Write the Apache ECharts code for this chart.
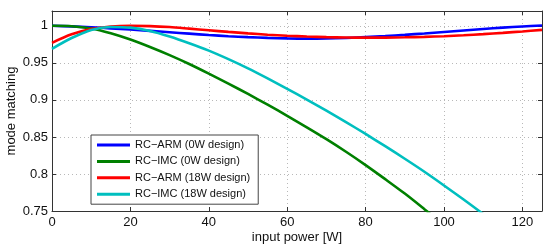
<!DOCTYPE html>
<html>
<head>
<meta charset="utf-8">
<script src="https://cdn.jsdelivr.net/npm/echarts@6/dist/echarts.min.js"></script>
<style>
html,body{margin:0;padding:0;background:#fff;}
#c{width:546px;height:245px;}
</style>
</head>
<body>
<div id="c"></div>
<script>
// input power [W]
const powers = [0,5,10,15,20,25,30,35,40,45,50,55,60,65,70,75,80,85,90,95,100,105,110,115,120,125];
const seriesNames = ['RC\u2212ARM (0W design)','RC\u2212IMC (0W design)','RC\u2212ARM (18W design)','RC\u2212IMC (18W design)'];
const armDesign0 = [1.000,0.9992,0.998,0.9966,0.995,0.9932,0.9913,0.9894,0.9876,0.986,0.9847,0.9837,0.983,0.9827,0.9828,0.9835,0.9848,0.9862,0.9878,0.9897,0.9917,0.9937,0.9957,0.9975,0.9991,1.0005];
const imcDesign0 = [1.000,0.9995,0.9965,0.990,0.9815,0.9715,0.9605,0.9485,0.9355,0.922,0.908,0.8935,0.8785,0.863,0.847,0.830,0.812,0.793,0.7735,0.7525,0.731,null,null,null,null,null];
const armDesign18 = [0.977,0.9885,0.9955,0.999,1.000,0.9996,0.9983,0.9962,0.994,0.9918,0.9898,0.988,0.9866,0.9855,0.9847,0.9842,0.984,0.9841,0.9845,0.9851,0.986,0.9873,0.9888,0.9905,0.9924,0.9945];
const imcDesign18 = [0.969,0.9835,0.9945,0.9985,0.9975,0.993,0.9855,0.9765,0.9665,0.955,0.9425,0.929,0.915,0.9005,0.8855,0.870,0.854,0.8375,0.8205,0.803,0.7845,0.7655,0.746,null,null,null];
const xTicks = [0,20,40,60,80,100,120];
const yTicks = [0.75,0.8,0.85,0.9,0.95,1];
const colors = ['#0000ff','#008000','#ff0000','#00bfbf'];

const chart = echarts.init(document.getElementById('c'), null, {renderer:'canvas'});
const font = 'Liberation Sans, Arial, Helvetica, sans-serif';
const allSeries = [armDesign0, imcDesign0, armDesign18, imcDesign18];

function pairs(vals){ return powers.map((p,i)=>[p, vals[i]]); }

const gridLine = {show:true, lineStyle:{color:'#b8b8b8', type:[1,3], width:1}};
const frame = {show:true, onZero:false, lineStyle:{color:'#333', width:1}};
const tick = {show:true, inside:true, length:4, lineStyle:{color:'#333'}};

chart.setOption({
  animation:false,
  color: colors,
  grid:{left:52, right:4, top:11, bottom:34, containLabel:false, outerBoundsMode:'none'},
  legend:{
    orient:'vertical', left:91, top:135,
    data: seriesNames,
    icon:'rect', itemWidth:33, itemHeight:3, itemGap:2.4,
    padding:[3,8,3,6],
    backgroundColor:'#fff', borderColor:'#444', borderWidth:1,
    textStyle:{fontFamily:font, fontSize:11, color:'#111', lineHeight:14}
  },
  xAxis:[{
    type:'value', min:0, max:125, interval:20,
    name:'input power [W]', nameLocation:'middle', nameGap:20, nameMoveOverlap:false,
    nameTextStyle:{fontFamily:font, fontSize:13, color:'#111'},
    axisLine:frame, axisTick:tick, splitLine:gridLine,
    axisLabel:{fontFamily:font, fontSize:13, color:'#111', margin:5, showMaxLabel:false,
      formatter:v=> xTicks.includes(v)? String(v):''}
  },{
    type:'value', min:0, max:125, interval:20, position:'top',
    axisLine:frame, axisTick:tick, splitLine:{show:false}, axisLabel:{show:false}
  }],
  yAxis:[{
    type:'value', min:0.75, max:1.02, interval:0.05,
    name:'mode matching', nameLocation:'middle', nameGap:34, nameRotate:90, nameMoveOverlap:false,
    nameTextStyle:{fontFamily:font, fontSize:13, color:'#111'},
    axisLine:frame, axisTick:tick, splitLine:gridLine,
    axisLabel:{fontFamily:font, fontSize:13, color:'#111', margin:4, showMaxLabel:false,
      formatter:v=>{ const r=Math.round(v*100)/100; return yTicks.includes(r)? String(r):''; }}
  },{
    type:'value', min:0.75, max:1.02, interval:0.05, position:'right',
    axisLine:frame, axisTick:tick, splitLine:{show:false}, axisLabel:{show:false}
  }],
  series: allSeries.map((vals,i)=>({
    name: seriesNames[i], type:'line', data: pairs(vals),
    smooth:0.3, showSymbol:false, symbol:'none', clip:true, connectNulls:false,
    lineStyle:{width:2.6, color:colors[i]}, itemStyle:{color:colors[i]}
  }))
});
</script>
</body>
</html>
